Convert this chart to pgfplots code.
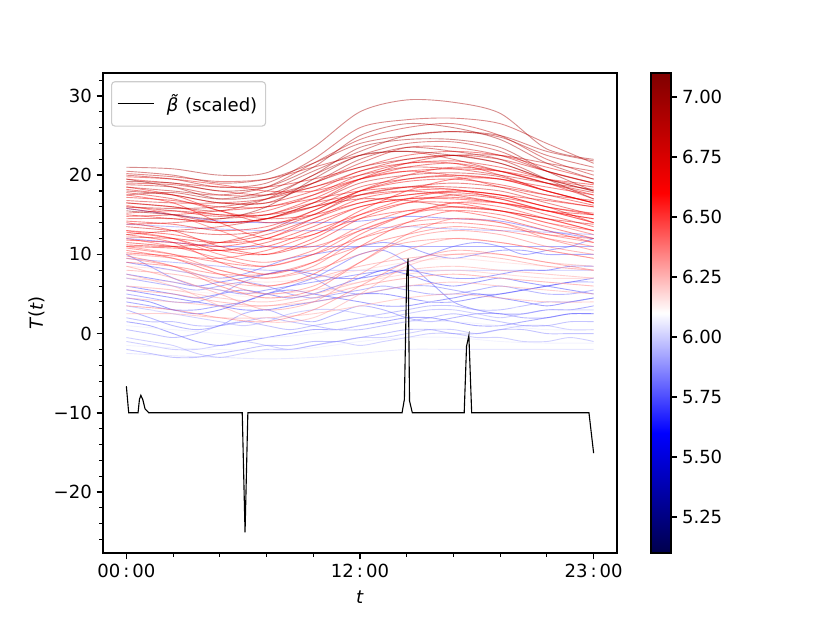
\documentclass[border=0pt]{standalone}
\usepackage{fontspec}
\setmainfont{DejaVu Sans}
\usepackage{pgfplots}
\pgfplotsset{compat=1.18}
\pgfplotsset{colormap={seismic}{rgb=(0,0,0.3) rgb=(0,0,1) rgb=(1,1,1) rgb=(1,0,0) rgb=(0.5,0,0)}}
\newcommand{\cl}[2]{\addplot[forget plot, smooth, line width=0.65pt, draw opacity=0.45, color of colormap={#1}] coordinates {#2};}
\newcommand{\fs}{\fontsize{13}{15.6}\selectfont}
\begin{document}
\begin{tikzpicture}
\useasboundingbox (0,0) rectangle (597.6pt,448.56pt);
\begin{axis}[
  at={(74.16pt,50.4pt)}, anchor=south west,
  scale only axis, width=370.08pt, height=345.6pt,
  xmin=-0.5, xmax=10.5, ymin=-27.7, ymax=32.9,
  colormap name=seismic, point meta min=5.1, point meta max=7.1,
  xtick={0,5,10}, xticklabels={00\,:\,00,12\,:\,00,23\,:\,00},
  minor xtick={1,2,3,4,6,7,8,9},
  ytick={-20,-10,0,10,20,30}, yticklabels={−20,−10,0,10,20,30},
  minor ytick={-26,-24,-22,-18,-16,-14,-12,-8,-6,-4,-2,2,4,6,8,12,14,16,18,22,24,26,28,32},
  tick align=outside, tick pos=left,
  major tick length=4.55pt, minor tick length=2.6pt,
  every major tick/.style={black, line width=1.04pt},
  every minor tick/.style={black, line width=0.78pt},
  axis line style={line width=1.04pt},
  tick label style={font=\fs},
  xlabel={\textit{t}}, ylabel={\textit{T}(\textit{t})},
  xlabel style={at={(axis description cs:0.5,-0.092)}, anchor=center, font=\fs},
  ylabel style={at={(axis description cs:-0.128,0.5)}, anchor=center, font=\fs},
  legend style={at={(0.0156,0.983)}, anchor=north west, draw=black!20, line width=0.8pt, rounded corners=2.5pt, fill=white, fill opacity=0.8, text opacity=1, inner xsep=4pt, inner ysep=7pt, font=\fs},
  legend cell align=left,
  legend image code/.code={\draw[#1] (0pt,0pt) -- (26pt,0pt);},
  colorbar,
  colorbar style={
    at={(parent axis.north east)}, anchor=north west, xshift=15.8pt,
    scale only axis, width=14.4pt, height=345.6pt,
    ytick={5.25,5.5,5.75,6,6.25,6.5,6.75,7},
    ytick pos=right, yticklabel pos=right,
    yticklabel style={/pgf/number format/.cd, fixed, fixed zerofill, precision=2, assume math mode=true},
    tick label style={font=\fs},
    tick align=outside, major tick length=4.55pt,
    every major tick/.style={black, line width=1.04pt},
    axis line style={line width=1.04pt},
  },
]
% blue / light lines
\cl{450}{(0,-2.5)(1,-2.8)(2,-3)(3,-3.2)(4,-3)(5,-2.5)(6,-2)(7,-2)(8,-2)(9,-2)(10,-2)}
\cl{325}{(0,15.8)(1,15)(2,14.2)(3,14)(4,14)(5,14.2)(6,14.8)(7,14.5)(8,14.2)(9,13)(10,12)}
\cl{375}{(0,13.8)(1,13.5)(2,13.2)(3,13)(4,13)(5,13.2)(6,13.5)(7,13.2)(8,13)(9,12.8)(10,12.5)}
\cl{325}{(0,10)(0.5,8.5)(1,7)(1.5,6)(2,5.5)(2.5,5)(3,5.5)(3.5,6)(4,6.5)(4.5,7)(5,7.5)(5.5,8)(6,9)(6.5,10)(7,11)(7.5,11.5)(8,11)(8.5,10)(9,10.5)(9.5,11)(10,12)}
\cl{300}{(0,6)(0.5,5.5)(1,5)(1.5,4.5)(2,5)(2.5,5.5)(3,5)(3.5,4.5)(4,5)(4.5,6)(5,7)(5.5,8)(6,7.5)(6.5,6.5)(7,6)(7.5,6.5)(8,7)(8.5,6.5)(9,6)(9.5,5.5)(10,5)}
\cl{300}{(0,4.5)(0.5,4)(1,3)(1.5,2.5)(2,3)(2.5,4)(3,5)(3.5,5.5)(4,5)(4.5,4.5)(5,4)(5.5,3.5)(6,3.5)(6.5,4)(7,4.5)(7.5,5)(8,4.5)(8.5,4)(9,3.5)(9.5,4)(10,4.5)}
\cl{350}{(0,3)(0.5,2)(1,1)(1.5,0.5)(2,1)(2.5,2.5)(3,3)(3.5,2)(4,1.5)(4.5,2.5)(5,3.5)(5.5,3)(6,2)(6.5,1.5)(7,2)(7.5,2.5)(8,2.5)(8.5,2)(9,2)(9.5,2.5)(10,2.5)}
\cl{325}{(0,1.5)(0.5,1)(1,0)(1.5,-1)(2,-1.5)(2.5,-1)(3,-0.5)(3.5,0)(4,0.5)(4.5,0.5)(5,1)(5.5,1.5)(6,2)(6.5,2)(7,1.5)(7.5,1)(8,1)(8.5,1.5)(9,2)(9.5,2.5)(10,2.5)}
\cl{400}{(0,-0.5)(0.5,-1)(1,-1.5)(1.5,-2.5)(2,-3)(2.5,-2.5)(3,-2)(3.5,-2)(4,-1.5)(4.5,-1)(5,-1.5)(5.5,-1)(6,-0.5)(6.5,0)(7,0)(7.5,-0.5)(8,-0.5)(8.5,-1)(9,-1)(9.5,-0.5)(10,-1)}
\cl{375}{(0,-2)(0.5,-2.5)(1,-3)(1.5,-3)(2,-2.5)(2.5,-2)(3,-1.5)(3.5,-1.5)(4,-1)(4.5,-1)(5,-0.5)(5.5,0)(6,0.5)(6.5,0.5)(7,0)(7.5,0)(8,0.5)(8.5,0.5)(9,0)(9.5,0)(10,0)}
\cl{300}{(0,7.5)(0.5,7)(1,6.5)(1.5,6)(2,6.5)(2.5,7)(3,7.5)(3.5,8)(4,7.5)(4.5,7)(5,7)(5.5,7.5)(6,8)(6.5,7.5)(7,7)(7.5,7)(8,7.5)(8.5,8)(9,8)(9.5,8.5)(10,8.5)}
\cl{350}{(0,5)(0.5,4.5)(1,4)(1.5,4)(2,5)(2.5,6.5)(3,7.5)(3.5,8)(4,7)(4.5,5.5)(5,5)(5.5,5.5)(6,6)(6.5,6)(7,5.5)(7.5,5)(8,5)(8.5,5.5)(9,6)(9.5,6.5)(10,6.5)}
\cl{325}{(0,4)(0.5,3.5)(1,3)(1.5,3)(2,3.5)(2.5,4)(3,5)(3.5,6)(4,7)(4.5,8.5)(5,10)(5.5,10.5)(6,9)(6.5,6.5)(7,4)(7.5,3)(8,2.5)(8.5,2.5)(9,3)(9.5,3)(10,3.5)}
\cl{375}{(0,0.5)(0.5,0)(1,-0.5)(1.5,0)(2,1)(2.5,1.5)(3,1)(3.5,0.5)(4,1)(4.5,1.5)(5,2)(5.5,2.5)(6,3)(6.5,3.5)(7,3.5)(7.5,3)(8,3)(8.5,3.5)(9,4)(9.5,4)(10,4.5)}
\cl{400}{(0,-1)(0.5,-1.5)(1,-2)(1.5,-2)(2,-1.5)(2.5,-1)(3,-1.5)(3.5,-2)(4,-1.5)(4.5,-1)(5,-0.5)(5.5,-0.5)(6,0)(6.5,0.5)(7,0.5)(7.5,0)(8,0.5)(8.5,1)(9,1)(9.5,0.5)(10,0.5)}
\cl{325}{(0,9)(0.5,8.5)(1,8)(1.5,7.5)(2,7)(2.5,7.5)(3,8.5)(3.5,9.5)(4,10)(4.5,10.5)(5,11)(5.5,11.5)(6,11)(6.5,10)(7,9.5)(7.5,10)(8,10.5)(8.5,10.5)(9,10)(9.5,10)(10,10)}
\cl{300}{(0,5.5)(0.5,5)(1,4.5)(1.5,4)(2,3.5)(2.5,3)(3,3)(3.5,3.5)(4,4)(4.5,4.5)(5,5)(5.5,5)(6,4.5)(6.5,4)(7,4)(7.5,4.5)(8,5)(8.5,5.5)(9,6)(9.5,6.5)(10,7)}
\cl{375}{(0,2)(0.5,1.5)(1,1.5)(1.5,1)(2,1)(2.5,1.5)(3,2)(3.5,1.5)(4,1)(4.5,0.5)(5,0.5)(5.5,1)(6,1.5)(6.5,2)(7,2.5)(7.5,2)(8,1.5)(8.5,1)(9,1)(9.5,1.5)(10,1.5)}
\cl{350}{(0,7)(0.5,6.5)(1,6)(1.5,5.5)(2,6)(2.5,6.5)(3,6)(3.5,5)(4,4.5)(4.5,5)(5,5.5)(5.5,6)(6,5.5)(6.5,5)(7,5)(7.5,5.5)(8,6)(8.5,5.5)(9,5)(9.5,5)(10,5.5)}
\cl{400}{(0,3.5)(0.5,3)(1,2.5)(1.5,2)(2,1.5)(2.5,1)(3,1.5)(3.5,2.5)(4,3)(4.5,3)(5,2.5)(5.5,2)(6,2.5)(6.5,3)(7,3)(7.5,2.5)(8,2)(8.5,2.5)(9,3)(9.5,3)(10,3)}
\cl{325}{(0,12)(1,11.5)(2,11)(3,11)(4,11)(5,11)(6,11)(7,11)(8,11)(9,11)(10,11)}
\cl{375}{(0,9.5)(1,9)(2,8.5)(3,8)(4,8)(5,8)(6,8)(7,8)(8,8)(9,8)(10,8)}
% near white
\cl{525}{(0,6)(1,5.5)(2,5)(3,4.5)(4,5)(5,6)(6,7)(7,7.5)(8,7)(9,6.5)(10,6)}
\cl{475}{(0,1)(1,0.5)(2,0)(3,-0.5)(4,0)(5,1)(6,1.5)(7,1.5)(8,1)(9,0.5)(10,0.5)}
\cl{550}{(0,8.5)(1,8)(2,7)(3,6.5)(4,7)(5,8)(6,9)(7,9.5)(8,9)(9,8.5)(10,8)}
\cl{500}{(0,3)(1,2.8)(2,2.5)(3,2)(4,2.5)(5,3.5)(6,4)(7,4)(8,3.5)(9,3)(10,3)}
\cl{475}{(0,-1.5)(1,-1.8)(2,-2)(3,-2.2)(4,-1.8)(5,-1)(6,-0.5)(7,-0.5)(8,-1)(9,-1.2)(10,-1.2)}
% pink
\cl{700}{(0,12)(1,11)(2,9.5)(3,8.5)(4,10)(5,13)(6,15)(7,16)(8,15.5)(9,14)(10,13)}
\cl{675}{(0,11)(1,10)(2,8)(3,7)(4,8.5)(5,12)(6,14)(7,14.5)(8,14)(9,12.5)(10,11.5)}
\cl{725}{(0,10.5)(1,9.5)(2,7.5)(3,6)(4,7.5)(5,11)(6,14)(7,15.5)(8,15)(9,13.5)(10,12)}
\cl{650}{(0,9.5)(1,8.5)(2,6.5)(3,5)(4,6)(5,9)(6,12)(7,13)(8,12.5)(9,11)(10,10)}
\cl{625}{(0,8.5)(1,7)(2,5)(3,3)(4,4)(5,7.5)(6,10.5)(7,12)(8,11.5)(9,10.5)(10,9.5)}
\cl{600}{(0,7.5)(1,6)(2,3.5)(3,1.5)(4,2)(5,5)(6,8.5)(7,10)(8,10)(9,9)(10,8.5)}
\cl{650}{(0,10)(1,9.5)(2,8)(3,7)(4,8)(5,10)(6,11.5)(7,12)(8,11.5)(9,10.5)(10,9.5)}
\cl{600}{(0,6)(1,5.5)(2,4.5)(3,4)(4,5)(5,6.5)(6,8)(7,8.5)(8,8)(9,7.5)(10,7)}
\cl{625}{(0,5.5)(1,5)(2,4)(3,3.5)(4,4.5)(5,6)(6,7)(7,7.5)(8,7)(9,6.5)(10,6)}
\cl{675}{(0,9)(1,8.5)(2,7.5)(3,7.5)(4,9)(5,11)(6,12.5)(7,13.5)(8,13)(9,12)(10,11)}
\cl{700}{(0,13)(1,12)(2,10)(3,9)(4,10.5)(5,13.5)(6,15.5)(7,16)(8,15.5)(9,14)(10,12.5)}
\cl{600}{(0,4.5)(1,4)(2,3.5)(3,3.5)(4,4)(5,5)(6,6)(7,6.5)(8,6)(9,5.5)(10,5)}
\cl{725}{(0,12.5)(1,11.5)(2,9)(3,7.5)(4,9)(5,12.5)(6,15)(7,16.5)(8,16)(9,14.5)(10,13)}
\cl{575}{(0,7)(1,6.5)(2,5.5)(3,5)(4,5.5)(5,6.5)(6,7.5)(7,8)(8,7.5)(9,7)(10,7)}
\cl{650}{(0,3.5)(1,3)(2,2)(3,1.5)(4,3)(5,6)(6,9)(7,10.5)(8,10)(9,9)(10,8)}
\cl{625}{(0,8)(1,7.5)(2,6.5)(3,6)(4,7)(5,8.5)(6,9.5)(7,10)(8,9.5)(9,8.5)(10,8)}
\cl{700}{(0,10.8)(1,10)(2,9)(3,8.5)(4,10)(5,12)(6,13.5)(7,14)(8,13.5)(9,12.5)(10,12)}
\cl{600}{(0,2.5)(1,2.5)(2,2)(3,2)(4,2.5)(5,3.5)(6,4.5)(7,5)(8,4.5)(9,4)(10,4)}
\cl{675}{(0,9.8)(1,8.5)(2,6)(3,4.5)(4,5.5)(5,9)(6,12.5)(7,14.5)(8,14)(9,12)(10,10.5)}
\cl{725}{(0,10.2)(1,9.8)(2,9.5)(3,10.5)(4,12.5)(5,14.5)(6,15.5)(7,15.5)(8,14.5)(9,13)(10,11.5)}
% bright red
\cl{825}{(0,19)(1,18.8)(2,18)(3,17.5)(4,18.5)(5,20.5)(6,22)(7,22.5)(8,21.5)(9,19.5)(10,18.5)}
\cl{800}{(0,18.2)(1,17.5)(2,16.5)(3,16.5)(4,18)(5,20.5)(6,21.5)(7,21.8)(8,21)(9,19.5)(10,18)}
\cl{800}{(0,17.2)(1,16.8)(2,16)(3,16)(4,17.5)(5,19.5)(6,21)(7,21.5)(8,20.5)(9,19)(10,17.5)}
\cl{775}{(0,16.5)(1,16)(2,15)(3,15)(4,17)(5,19.5)(6,20.5)(7,20)(8,19.5)(9,18.5)(10,17.5)}
\cl{850}{(0,15.8)(1,15)(2,14)(3,14.5)(4,16.5)(5,19)(6,20)(7,20.3)(8,19.8)(9,18)(10,16.5)}
\cl{800}{(0,15)(1,14.5)(2,14)(3,14.5)(4,16)(5,18.5)(6,19.5)(7,19.8)(8,18.5)(9,17)(10,16)}
\cl{775}{(0,14.2)(1,13.8)(2,13)(3,13.5)(4,15.5)(5,18)(6,19.2)(7,19.5)(8,18.8)(9,17.5)(10,16.2)}
\cl{825}{(0,13.5)(1,13)(2,12.5)(3,13)(4,15)(5,17.5)(6,18.5)(7,18.5)(8,18)(9,16.5)(10,15)}
\cl{750}{(0,13)(1,12.5)(2,11.5)(3,12)(4,14.5)(5,17)(6,18)(7,18.2)(8,17)(9,15.5)(10,14.5)}
\cl{800}{(0,12.2)(1,12)(2,11.5)(3,12.5)(4,14.5)(5,16.5)(6,17.5)(7,17.8)(8,17.2)(9,16)(10,14)}
\cl{775}{(0,11.5)(1,11)(2,10.5)(3,11.5)(4,13.5)(5,16)(6,17)(7,17.2)(8,16.5)(9,15)(10,13.5)}
\cl{750}{(0,11)(1,10.8)(2,10.5)(3,11)(4,13)(5,15)(6,16.5)(7,16.5)(8,15.5)(9,14.5)(10,13)}
\cl{800}{(0,17.8)(1,17)(2,15.5)(3,14)(4,15)(5,18)(6,20)(7,21)(8,20.5)(9,19)(10,17)}
\cl{825}{(0,16.8)(1,16.5)(2,16.5)(3,17)(4,18.5)(5,20)(6,21)(7,20.8)(8,20)(9,19)(10,18.2)}
\cl{775}{(0,14.8)(1,15)(2,15.5)(3,16)(4,17)(5,18)(6,18.5)(7,18.2)(8,17.5)(9,16.8)(10,16)}
\cl{800}{(0,13.8)(1,14)(2,14.5)(3,15)(4,16.5)(5,17.5)(6,18)(7,17.5)(8,16.5)(9,15.5)(10,15)}
\cl{825}{(0,12.5)(1,13)(2,13.5)(3,14.5)(4,16)(5,17)(6,16.8)(7,16)(8,15.5)(9,14.5)(10,13.8)}
\cl{750}{(0,12.8)(1,12)(2,10.5)(3,10)(4,12)(5,15)(6,17)(7,18)(8,17.5)(9,16)(10,15.2)}
\cl{800}{(0,19.5)(1,19)(2,18.5)(3,18.5)(4,19.5)(5,21)(6,22.5)(7,23)(8,22.5)(9,21)(10,19.5)}
\cl{850}{(0,18.8)(1,18.5)(2,17.5)(3,17.5)(4,19)(5,21.5)(6,23.5)(7,23.5)(8,22.5)(9,20.5)(10,19)}
\cl{775}{(0,14)(1,13)(2,11)(3,10)(4,11.5)(5,14.5)(6,16.5)(7,17.5)(8,17)(9,15.5)(10,14.5)}
\cl{800}{(0,16)(1,15.5)(2,14.8)(3,15.5)(4,17.5)(5,20)(6,21.5)(7,21.5)(8,20)(9,18)(10,16.5)}
\cl{750}{(0,11.8)(1,11.5)(2,11)(3,12)(4,14)(5,16)(6,17)(7,17)(8,16.5)(9,15.5)(10,14)}
\cl{825}{(0,15.2)(1,15.5)(2,15)(3,15)(4,16)(5,17.5)(6,18.5)(7,19)(8,18.5)(9,17.5)(10,16.8)}
\cl{850}{(0,20.2)(1,19.8)(2,19.2)(3,19.5)(4,21)(5,22.5)(6,23)(7,22)(8,20.5)(9,19)(10,17.8)}
\cl{775}{(0,18.5)(1,17.5)(2,15.5)(3,14.5)(4,15)(5,16.5)(6,17.5)(7,18)(8,17.5)(9,16)(10,15)}
\cl{700}{(0,16.2)(1,15)(2,13)(3,11)(4,11)(5,13)(6,15)(7,16.5)(8,16.5)(9,15.5)(10,14)}
\cl{750}{(0,17.5)(1,16.5)(2,14)(3,12)(4,12.5)(5,15.5)(6,18)(7,19.5)(8,19.5)(9,18)(10,16.5)}
\cl{825}{(0,14.5)(1,14.5)(2,14)(3,14.5)(4,16.5)(5,19.5)(6,21.5)(7,22.5)(8,22)(9,20.5)(10,19)}
\cl{800}{(0,11.2)(1,11)(2,11.5)(3,13)(4,15.5)(5,18)(6,19.5)(7,20)(8,19.5)(9,18)(10,16.5)}
\cl{775}{(0,19.8)(1,19.5)(2,18.8)(3,18)(4,18)(5,19.5)(6,20.5)(7,20.8)(8,20.5)(9,19.5)(10,18.8)}
% dark red
\cl{925}{(0,21)(1,20.8)(2,20)(3,20.3)(4,23.5)(5,28)(6,29.5)(7,29.2)(8,27.8)(9,23.3)(10,22)}
\cl{900}{(0,20)(1,19.5)(2,18.5)(3,19)(4,22)(5,26)(6,27)(7,27.2)(8,26.5)(9,24)(10,21.5)}
\cl{925}{(0,19.2)(1,19)(2,18)(3,18.5)(4,21)(5,25)(6,26.5)(7,26)(8,24.5)(9,21.5)(10,19.5)}
\cl{875}{(0,18.5)(1,18)(2,17.5)(3,18.5)(4,21.5)(5,24.5)(6,26)(7,26.5)(8,25)(9,22)(10,20)}
\cl{900}{(0,17.5)(1,17.8)(2,17)(3,18)(4,20.5)(5,23)(6,25)(7,25.5)(8,24.8)(9,22.5)(10,21)}
\cl{925}{(0,19.5)(1,18.5)(2,17)(3,17.5)(4,20)(5,23.5)(6,24.5)(7,24.5)(8,23.5)(9,20.5)(10,18)}
\cl{875}{(0,16.5)(1,16)(2,15.5)(3,17)(4,20)(5,22.5)(6,24)(7,24.2)(8,23)(9,20.5)(10,19)}
\cl{900}{(0,18)(1,17.5)(2,16.5)(3,16.5)(4,19)(5,22)(6,23.5)(7,23)(8,22)(9,19.5)(10,17)}
\cl{950}{(0,15.5)(1,15)(2,14.5)(3,16)(4,19.5)(5,22.5)(6,23)(7,22.5)(8,21.5)(9,19.5)(10,18)}
\cl{900}{(0,20.5)(1,20)(2,19)(3,19.5)(4,21.5)(5,24)(6,25)(7,25.5)(8,25)(9,23)(10,21.8)}
\cl{875}{(0,16)(1,15.8)(2,16)(3,17)(4,19)(5,21)(6,22)(7,22.5)(8,22.5)(9,21.5)(10,20.5)}
% beta
\addplot[black, line width=0.8pt] coordinates {(0,-6.65)(0.05,-10)(0.25,-10)(0.28,-8.3)(0.31,-7.8)(0.35,-8.3)(0.4,-9.5)(0.48,-10)(2.48,-10)(2.54,-25.1)(2.6,-10)(5.9,-10)(5.95,-8.3)(6.0,7.5)(6.03,9.5)(6.06,-8.5)(6.12,-10)(7.23,-10)(7.28,-1.6)(7.33,-0.25)(7.39,-10)(9.9,-10)(10,-15.1)};
\addlegendentry{\hspace{7pt}\textit{β̃} (scaled)\hspace{1pt}}
\end{axis}
\end{tikzpicture}
\end{document}
